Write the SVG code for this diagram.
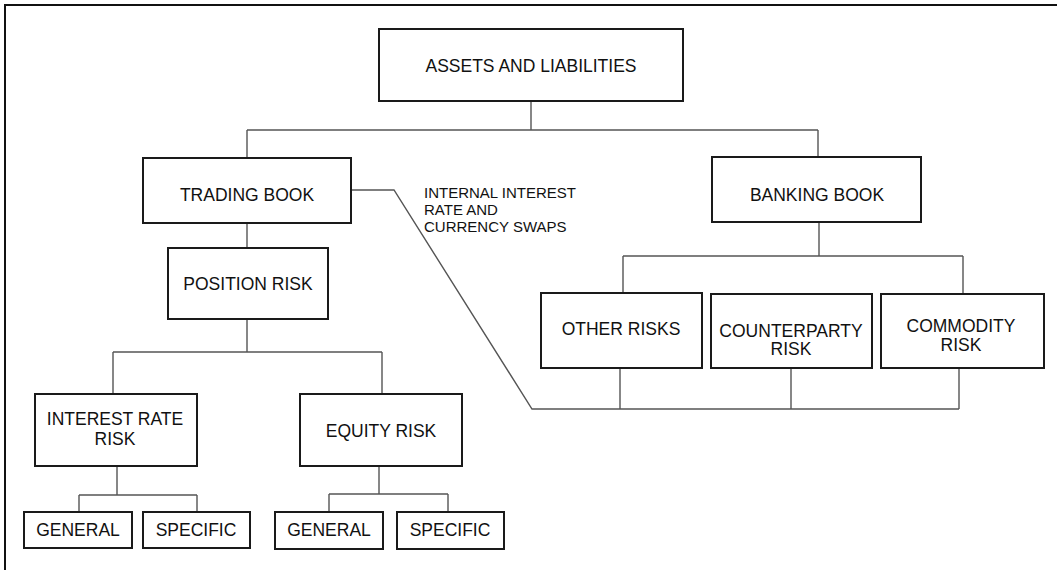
<svg xmlns="http://www.w3.org/2000/svg" width="1057" height="574" viewBox="0 0 1057 574">
<style>
.box{fill:#fff;stroke:#1a1a1a;stroke-width:2}
.t{font-family:"Liberation Sans",Arial,sans-serif;font-size:17.5px;fill:#111;text-anchor:middle}
.lbl{font-family:"Liberation Sans",Arial,sans-serif;font-size:15px;fill:#111}
.c{fill:none;stroke:#555;stroke-width:1.4}
.frame{fill:none;stroke:#111;stroke-width:2}
</style>
<rect width="1057" height="574" fill="#fff"/>
<path class="frame" d="M1057,5 H5 V570"/>
<g id="connectors">
<path class="c" d="M531,101 V130 M247,130 H818 M247,130 V158 M818,130 V157"/>
<path class="c" d="M247,223 V248"/>
<path class="c" d="M351,190 H394 L532,409 H959"/>
<path class="c" d="M620,368 V409 M791,368 V409 M959,368 V409"/>
<path class="c" d="M819,222 V256 M623,256 H963 M623,256 V293 M963,256 V294"/>
<path class="c" d="M247,319 V352 M113,352 H382 M113,352 V394 M382,352 V394"/>
<path class="c" d="M117,466 V495 M79,495 H197 M79,495 V512 M197,495 V512"/>
<path class="c" d="M379,466 V494 M329,494 H448 M329,494 V512 M448,494 V512"/>
<text class="lbl" x="424" y="198">INTERNAL INTEREST</text>
<text class="lbl" x="424" y="215">RATE AND</text>
<text class="lbl" x="424" y="232">CURRENCY SWAPS</text>
</g>
<g id="assets"><rect class="box" x="379" y="29" width="304" height="72"/><text class="t" x="531" y="72">ASSETS AND LIABILITIES</text></g>
<g id="trading"><rect class="box" x="143" y="158" width="208" height="65"/><text class="t" x="247" y="201">TRADING BOOK</text></g>
<g id="banking"><rect class="box" x="712" y="157" width="209" height="65"/><text class="t" x="817" y="201">BANKING BOOK</text></g>
<g id="position"><rect class="box" x="168" y="248" width="160" height="71"/><text class="t" x="248" y="290">POSITION RISK</text></g>
<g id="other"><rect class="box" x="541" y="293" width="161" height="75"/><text class="t" x="621" y="335">OTHER RISKS</text></g>
<g id="counterparty"><rect class="box" x="711" y="294" width="161" height="74"/><text class="t" x="791" y="337">COUNTERPARTY</text><text class="t" x="791" y="355">RISK</text></g>
<g id="commodity"><rect class="box" x="881" y="294" width="163" height="74"/><text class="t" x="961" y="332">COMMODITY</text><text class="t" x="961" y="351">RISK</text></g>
<g id="interest"><rect class="box" x="35" y="394" width="162" height="72"/><text class="t" x="115" y="425">INTEREST RATE</text><text class="t" x="115" y="445">RISK</text></g>
<g id="equity"><rect class="box" x="300" y="394" width="162" height="72"/><text class="t" x="381" y="437">EQUITY RISK</text></g>
<g id="general1"><rect class="box" x="24" y="512" width="108" height="36"/><text class="t" x="78" y="536">GENERAL</text></g>
<g id="specific1"><rect class="box" x="143" y="512" width="107" height="36"/><text class="t" x="196" y="536">SPECIFIC</text></g>
<g id="general2"><rect class="box" x="275" y="512" width="108" height="37"/><text class="t" x="329" y="536">GENERAL</text></g>
<g id="specific2"><rect class="box" x="397" y="512" width="107" height="37"/><text class="t" x="450" y="536">SPECIFIC</text></g>
</svg>
